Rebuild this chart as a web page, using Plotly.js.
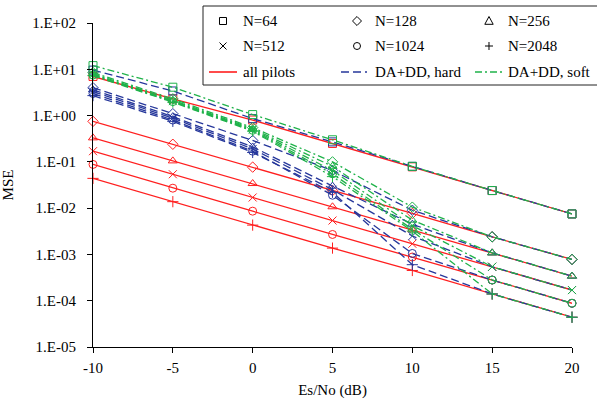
<!DOCTYPE html>
<html><head><meta charset="utf-8">
<script src="https://cdn.plot.ly/plotly-3.0.1.min.js"></script>
<style>html,body{margin:0;padding:0;background:#fff}#chart{width:597px;height:405px}</style>
</head><body><div id="chart"></div>
<script>
// ---- data ----
const snrDb = [-10, -5, 0, 5, 10, 15, 20];
const xTickText = ['-10', '-5', '0', '5', '10', '15', '20'];
const blockLabels = ['N=64', 'N=128', 'N=256', 'N=512', 'N=1024', 'N=2048'];
const methodLabels = ['all pilots', 'DA+DD, hard', 'DA+DD, soft'];
const yTickVals = [1e-5, 1e-4, 1e-3, 1e-2, 1e-1, 1e0, 1e1, 1e2];
const yTickText = ['1.E-05', '1.E-04', '1.E-03', '1.E-02', '1.E-01', '1.E+00', '1.E+01', '1.E+02'];

// all pilots (red, solid)
const pilotsN64   = [7.0, 2.3, 0.80, 0.25, 0.078, 0.024, 0.0075];
const pilotsN128  = [0.75, 0.24, 0.077, 0.024, 0.0077, 0.0024, 0.00078];
const pilotsN256  = [0.33, 0.105, 0.034, 0.0107, 0.0034, 0.00108, 0.00034];
const pilotsN512  = [0.17, 0.054, 0.017, 0.0054, 0.0017, 0.00054, 0.00017];
const pilotsN1024 = [0.088, 0.027, 0.0086, 0.0027, 0.00088, 0.00028, 0.000088];
const pilotsN2048 = [0.044, 0.0138, 0.0043, 0.00137, 0.00045, 0.00014, 0.000044];

// DA+DD, hard (blue, dashed)
const hardN64   = [9.6, 3.4, 0.86, 0.27, 0.080, 0.024, 0.0075];
const hardN128  = [4.0, 1.1, 0.29, 0.065, 0.009, 0.0024, 0.00078];
const hardN256  = [3.6, 0.95, 0.21, 0.030, 0.0045, 0.00108, 0.00034];
const hardN512  = [3.3, 0.88, 0.19, 0.025, 0.0025, 0.00054, 0.00017];
const hardN1024 = [3.0, 0.80, 0.17, 0.019, 0.00105, 0.00028, 0.000088];
const hardN2048 = [2.7, 0.75, 0.16, 0.022, 0.0006, 0.00014, 0.000044];

// DA+DD, soft (green, dash-dot)
const softN64   = [12.0, 4.1, 1.05, 0.30, 0.080, 0.024, 0.0075];
const softN128  = [8.5, 2.3, 0.55, 0.10, 0.0105, 0.0024, 0.00078];
const softN256  = [8.0, 2.15, 0.52, 0.080, 0.0055, 0.00108, 0.00034];
const softN512  = [7.7, 2.05, 0.50, 0.065, 0.0042, 0.00054, 0.00017];
const softN1024 = [7.5, 2.0, 0.48, 0.055, 0.0035, 0.00028, 0.000088];
const softN2048 = [7.3, 1.95, 0.46, 0.048, 0.0032, 0.00014, 0.000044];

// ---- styles ----
const symbols = ['square-open', 'diamond-open', 'triangle-up-open', 'x-thin-open', 'circle-open', 'cross-thin-open'];
const styles = [
  {color: '#ff1f1f', dash: 'solid'},
  {color: '#26379b', dash: '8px,4px'},
  {color: '#1fb24a', dash: '7px,3px,2px,3px'}
];
const seriesByMethod = [
  [pilotsN64, pilotsN128, pilotsN256, pilotsN512, pilotsN1024, pilotsN2048],
  [hardN64, hardN128, hardN256, hardN512, hardN1024, hardN2048],
  [softN64, softN128, softN256, softN512, softN1024, softN2048]
];

const FONT = 'Liberation Serif, Times New Roman, serif';
const traces = [];
seriesByMethod.forEach((group, m) => {
  group.forEach((vals, i) => {
    traces.push({
      type: 'scatter', mode: 'lines+markers',
      x: snrDb, y: vals,
      name: methodLabels[m] + ' ' + blockLabels[i],
      showlegend: false, cliponaxis: false,
      line: {color: styles[m].color, width: 1.3, dash: styles[m].dash},
      marker: {symbol: symbols[i], size: 8, color: styles[m].color,
               line: {color: styles[m].color, width: 1}}
    });
  });
});

// ---- custom 3-column legend (pixel layout) ----
const plotL = 93, plotR = 572, plotT = 23, plotB = 347;
const px2x = p => (p - plotL) / (plotR - plotL);
const px2y = p => (plotB - p) / (plotB - plotT);
const colSym = [223, 357, 489];
const colTxt = [241, 373, 506];
const rowY = [21, 46, 72];
const lineSpan = [[209, 237], [341, 367], [475, 503]];

function P(pts, close) {
  return pts.map((p, k) => (k === 0 ? 'M' : 'L') + px2x(p[0]).toFixed(5) + ',' + px2y(p[1]).toFixed(5)).join(' ') + (close ? ' Z' : '');
}
function legendSymbolShapes(kind, cx, cy) {
  const ln = {color: '#000', width: 1};
  const base = {type: 'path', xref: 'paper', yref: 'paper', line: ln, fillcolor: 'rgba(0,0,0,0)'};
  const h = 3.5;
  if (kind === 0) return [Object.assign({}, base, {path: P([[cx-h,cy-h],[cx+h,cy-h],[cx+h,cy+h],[cx-h,cy+h]], true)})];
  if (kind === 1) return [Object.assign({}, base, {path: P([[cx,cy-4.5],[cx+4.5,cy],[cx,cy+4.5],[cx-4.5,cy]], true)})];
  if (kind === 2) return [Object.assign({}, base, {path: P([[cx,cy-4.5],[cx+4.2,cy+3.3],[cx-4.2,cy+3.3]], true)})];
  if (kind === 3) return [Object.assign({}, base, {path: P([[cx-h,cy-h],[cx+h,cy+h]]) + ' ' + P([[cx-h,cy+h],[cx+h,cy-h]])})];
  if (kind === 4) return [{type: 'circle', xref: 'paper', yref: 'paper', line: ln, fillcolor: 'rgba(0,0,0,0)',
                           x0: px2x(cx-h), x1: px2x(cx+h), y0: px2y(cy+h), y1: px2y(cy-h)}];
  return [Object.assign({}, base, {path: P([[cx-4,cy],[cx+4,cy]]) + ' ' + P([[cx,cy-4],[cx,cy+4]])})];
}

const shapes = [{
  type: 'rect', xref: 'paper', yref: 'paper',
  x0: px2x(203), x1: px2x(600), y0: px2y(85), y1: px2y(6),
  line: {color: '#222', width: 1}, fillcolor: 'rgba(0,0,0,0)'
}];
blockLabels.forEach((lab, i) => {
  legendSymbolShapes(i, colSym[i % 3], rowY[Math.floor(i / 3)]).forEach(s => shapes.push(s));
});
methodLabels.forEach((lab, m) => {
  shapes.push({type: 'line', xref: 'paper', yref: 'paper',
    x0: px2x(lineSpan[m][0]), x1: px2x(lineSpan[m][1]), y0: px2y(rowY[2]), y1: px2y(rowY[2]),
    line: {color: styles[m].color, width: 1.6, dash: styles[m].dash}});
});

const annotations = [];
blockLabels.forEach((lab, i) => {
  annotations.push({xref: 'paper', yref: 'paper', x: px2x(colTxt[i % 3]), y: px2y(rowY[Math.floor(i / 3)]),
    text: lab, showarrow: false, xanchor: 'left', yanchor: 'middle', font: {family: FONT, size: 15, color: '#000'}});
});
methodLabels.forEach((lab, m) => {
  annotations.push({xref: 'paper', yref: 'paper', x: px2x(colTxt[m]), y: px2y(rowY[2]),
    text: lab, showarrow: false, xanchor: 'left', yanchor: 'middle', font: {family: FONT, size: 15, color: '#000'}});
});

const layout = {
  width: 597, height: 405,
  margin: {l: plotL, r: 597 - plotR, t: plotT, b: 405 - plotB},
  paper_bgcolor: '#fff', plot_bgcolor: '#fff',
  showlegend: false,
  font: {family: FONT, size: 15, color: '#000'},
  xaxis: {
    range: [-10, 20], tickvals: snrDb, ticktext: xTickText, showgrid: false, zeroline: false,
    showline: true, linecolor: '#000', linewidth: 1, mirror: false,
    ticks: 'outside', ticklen: 5, tickcolor: '#000', tickwidth: 1,
    ticklabelstandoff: 2,
    tickfont: {family: FONT, size: 15, color: '#000'},
    title: {text: 'Es/No (dB)', font: {family: FONT, size: 15, color: '#000'}, standoff: 9}
  },
  yaxis: {
    type: 'log', range: [-5, 2], tickvals: yTickVals, ticktext: yTickText,
    showgrid: false, zeroline: false,
    showline: true, linecolor: '#000', linewidth: 1,
    ticks: 'outside', ticklen: 5, tickcolor: '#000', tickwidth: 1,
    ticklabelstandoff: 8,
    tickfont: {family: FONT, size: 15, color: '#000'},
    title: {text: 'MSE', font: {family: FONT, size: 15, color: '#000'}, standoff: 14}
  },
  shapes: shapes,
  annotations: annotations
};

Plotly.newPlot('chart', traces, layout, {staticPlot: true, displayModeBar: false});
</script></body></html>
